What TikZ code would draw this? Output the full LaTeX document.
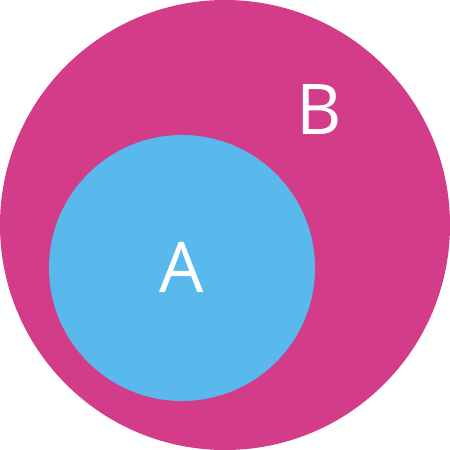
\documentclass[tikz,border=0pt]{standalone}
\usepackage{fontspec}
\setmainfont{Open Sans}
\definecolor{setmagenta}{HTML}{D23C88}
\definecolor{setblue}{HTML}{59B9EC}

\begin{document}
\begin{tikzpicture}[
  x=1pt, y=-1pt,
  setdisc/.style={circle, inner sep=0pt, draw=none},
  setlabel/.style={text=white, inner sep=0pt, font=\fontsize{70}{70}\selectfont}
]
\useasboundingbox (0,0) rectangle (450,450);
\node[setdisc, fill=setmagenta, minimum size=450pt] (B) at (225,225) {};
\node[setdisc, fill=setblue, minimum size=266pt] (A) at (182,268) {};
\node[setlabel] (labA) at (182,267.5) {A};
\node[setlabel] (labB) at (319,110) {B};
\end{tikzpicture}
\end{document}
